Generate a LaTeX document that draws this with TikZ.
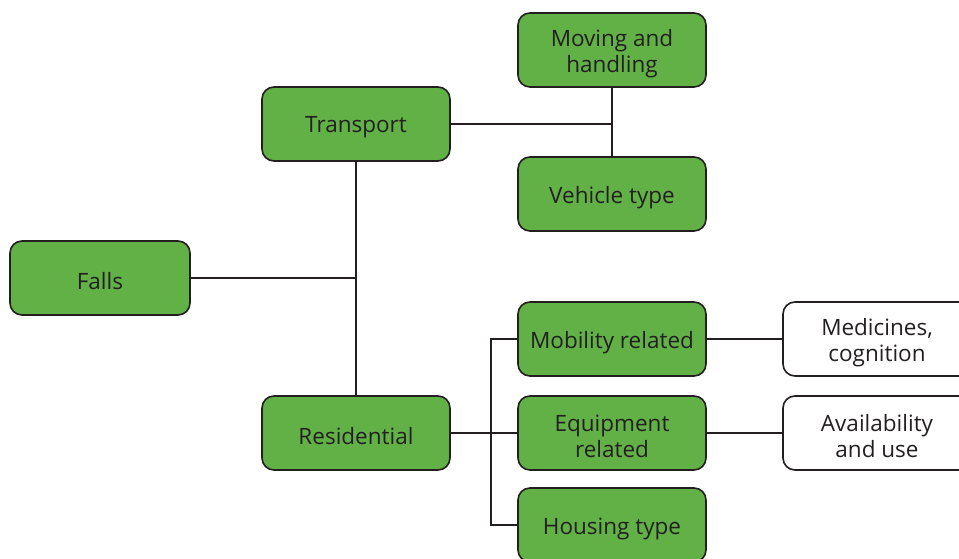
\documentclass[tikz,border=0pt]{standalone}
\usepackage{fontspec}
\setmainfont{Open Sans}
\definecolor{boxgreen}{HTML}{62B147}
\definecolor{ink}{HTML}{231F20}
\begin{document}
\begin{tikzpicture}[x=1pt,y=-1pt,
  box/.style={draw=ink, line width=1.6pt, rounded corners=12pt,
    minimum width=188pt, minimum height=74pt, inner sep=0pt},
  greenbox/.style={box, fill=boxgreen},
  whitebox/.style={box, fill=white},
  lbl/.style={align=center, text=ink, inner sep=0pt,
    font=\fontsize{22.5}{26}\selectfont},
  link/.style={draw=ink, line width=1.3pt}]
\useasboundingbox (0,0) rectangle (959,559);

% boxes
\node[greenbox, minimum width=180pt] (falls) at (100,278) {};
\node[greenbox] (transport) at (356,124) {};
\node[greenbox] (residential) at (356,433) {};
\node[greenbox] (moving) at (612,50) {};
\node[greenbox] (vehicle) at (612,194) {};
\node[greenbox] (mobility) at (612,339) {};
\node[greenbox] (equipment) at (612,433) {};
\node[greenbox] (housing) at (612,525) {};
\node[whitebox] (medicines) at (877,339) {};
\node[whitebox] (availability) at (877,433) {};

% box labels, set slightly below each box centre
\node[lbl] (falls-t) at ([yshift=-3.5pt]falls.center) {Falls};
\node[lbl] (transport-t) at ([yshift=-3.5pt]transport.center) {Transport};
\node[lbl] (residential-t) at ([yshift=-3.5pt]residential.center) {Residential};
\node[lbl] (moving-t) at ([yshift=-3.5pt]moving.center) {Moving and\\handling};
\node[lbl] (vehicle-t) at ([yshift=-3.5pt]vehicle.center) {Vehicle type};
\node[lbl] (mobility-t) at ([yshift=-3.5pt]mobility.center) {Mobility related};
\node[lbl] (equipment-t) at ([yshift=-3.5pt]equipment.center) {Equipment\\related};
\node[lbl] (housing-t) at ([yshift=-3.5pt]housing.center) {Housing type};
\node[lbl] (medicines-t) at ([yshift=-3.5pt]medicines.center) {Medicines,\\cognition};
\node[lbl] (availability-t) at ([yshift=-3.5pt]availability.center) {Availability\\and use};

% junction points
\coordinate (tj) at (transport.east -| moving.south);
\coordinate (fj) at (falls.east -| transport.south);
\coordinate (rj) at (491,433);
\coordinate (rtop) at (rj |- mobility.west);
\coordinate (rbot) at (rj |- housing.west);

% connectors
\draw[link] (moving.south) -- (vehicle.north);
\draw[link] (transport.east) -- (tj);
\draw[link] (transport.south) -- (residential.north);
\draw[link] (falls.east) -- (fj);
\draw[link] (residential.east) -- (equipment.west);
\draw[link] (mobility.west) -- (rtop) -- (rbot) -- (housing.west);
\draw[link] (mobility.east) -- (medicines.west);
\draw[link] (equipment.east) -- (availability.west);
\end{tikzpicture}
\end{document}
